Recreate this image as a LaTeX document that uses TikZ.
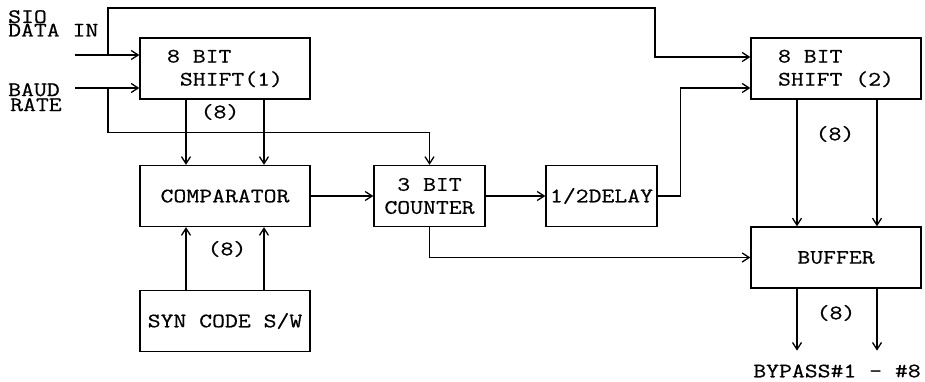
\documentclass[tikz,border=0pt]{standalone}
\usepackage{fontspec}
\setmonofont{Latin Modern Mono}[FakeStretch=1.22, FakeBold=0.6]
\usetikzlibrary{arrows.meta,positioning}

\begin{document}
\begin{tikzpicture}[
    x=1pt, y=-1pt,
    font=\ttfamily\fontsize{20.5}{23}\selectfont,
    >=Straight Barb,
    block/.style={draw, line width=1.3pt, minimum width=170pt, minimum height=61pt, inner sep=1pt},
    smallblock/.style={block, minimum width=111pt},
    lbl/.style={inner sep=0pt, anchor=north west, align=left},
    arrow/.style={-{Straight Barb[length=7pt,width=9pt]}, line width=1.3pt},
    wire/.style={line width=1.3pt}
]
\useasboundingbox (0,0) rectangle (925,382);

\node[lbl, font=\ttfamily\fontsize{20.5}{13.5}\selectfont] (sio) at (8,10) {SIO\\DATA IN};
\node[lbl, font=\ttfamily\fontsize{20.5}{15}\selectfont] (baud) at (8,83) {BAUD\\\hspace*{2pt}RATE};

\node[block, align=left] (shift1) at (225,68.5) {8 BIT\\\hphantom{0}SHIFT(1)};
\node[block] (comp) at (225,196) {COMPARATOR};
\node[block] (syn) at (225,321) {SYN CODE S/W};
\node[smallblock, align=center] (counter) at (429.5,196) {3 BIT\\COUNTER};
\node[smallblock] (delay) at (601.5,196) {1/2DELAY};
\node[block, align=left] (shift2) at (836,68.5) {8 BIT\\SHIFT (2)};
\node[block] (buffer) at (836,257.5) {BUFFER};

\node (w1) at (220,112) {(8)};
\node (w2) at (227,249) {(8)};
\node (w3) at (835,134) {(8)};
\node (w4) at (836,313) {(8)};
\node (bypass) at (837,371) {BYPASS\#1 - \#8};

\coordinate (sioin) at (75,55);
\coordinate (siotap) at (108,55);
\coordinate (topbend) at (655,8);
\coordinate (baudin) at (75,88);
\coordinate (baudtap) at (108,88);

% inputs
\draw[arrow] (sioin) -- (sioin -| shift1.west);
\draw[arrow] (baudin) -- (baudin -| shift1.west);
\draw[arrow] (siotap) |- (topbend) |- ([yshift=11.5pt]shift2.west);
\draw[arrow] (baudtap) |- ([yshift=32pt]counter.north) -- (counter.north);

% data paths
\draw[arrow] ([xshift=-39pt]shift1.south) -- ([xshift=-39pt]comp.north);
\draw[arrow] ([xshift=39pt]shift1.south) -- ([xshift=39pt]comp.north);
\draw[arrow] ([xshift=-39pt]syn.north) -- ([xshift=-39pt]comp.south);
\draw[arrow] ([xshift=39pt]syn.north) -- ([xshift=39pt]comp.south);
\draw[arrow] (comp.east) -- (counter.west);
\draw[arrow] (counter.east) -- (delay.west);
\draw[arrow] (delay.east) -- ++(23,0) |- ([yshift=-19.5pt]shift2.west);
\draw[arrow] ([xshift=-39pt]shift2.south) -- ([xshift=-39pt]buffer.north);
\draw[arrow] ([xshift=41pt]shift2.south) -- ([xshift=41pt]buffer.north);
\draw[arrow] (counter.south) |- (buffer.west);
\draw[arrow] ([xshift=-39pt]buffer.south) -- ++(0,62);
\draw[arrow] ([xshift=41pt]buffer.south) -- ++(0,62);
\end{tikzpicture}
\end{document}
